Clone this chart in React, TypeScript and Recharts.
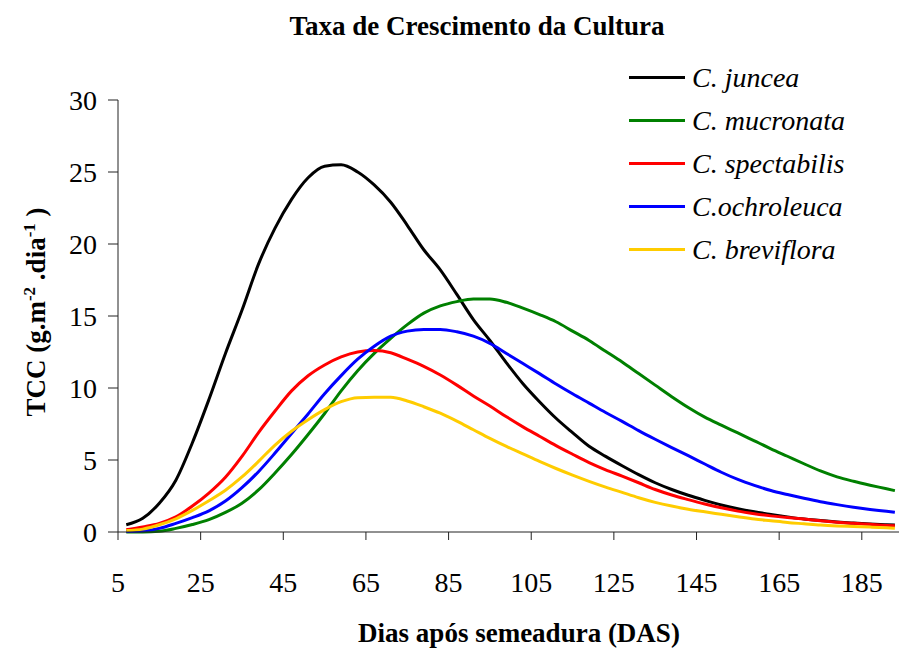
import { LineChart, Line, XAxis, YAxis } from 'recharts';

const days = [
  7, 11, 15, 19, 23, 27, 31, 35, 39, 43, 47, 51, 55, 59, 63, 67, 71, 75, 79, 83, 87, 91, 95, 99,
  103, 107, 111, 115, 119, 123, 127, 131, 135, 139, 143, 147, 151, 155, 159, 163, 167, 171, 175,
  179, 183, 187, 191, 193,
];

const juncea = [
  0.5, 0.95, 2.0, 3.6, 6.2, 9.2, 12.4, 15.4, 18.6, 21.1, 23.1, 24.6, 25.4, 25.5, 25.0, 24.1, 22.9,
  21.3, 19.6, 18.2, 16.5, 14.75, 13.3, 11.75, 10.3, 9.05, 7.9, 6.9, 5.95, 5.25, 4.6, 3.98, 3.42, 2.95,
  2.55, 2.2, 1.88, 1.62, 1.4, 1.22, 1.05, 0.9, 0.8, 0.7, 0.62, 0.55, 0.5, 0.48,
];
const mucronata = [
  0, 0, 0.05, 0.25, 0.52, 0.86, 1.36, 2.0, 2.92, 4.1, 5.38, 6.77, 8.23, 9.8, 11.2, 12.4, 13.45, 14.4,
  15.2, 15.7, 16.0, 16.18, 16.18, 15.95, 15.55, 15.1, 14.6, 13.95, 13.3, 12.55, 11.8, 11.0, 10.2,
  9.4, 8.65, 7.98, 7.42, 6.88, 6.33, 5.78, 5.26, 4.74, 4.24, 3.83, 3.52, 3.25, 3.0, 2.87,
];
const spectabilis = [
  0.15, 0.35, 0.6, 1.05, 1.8, 2.7, 3.8, 5.25, 6.9, 8.4, 9.8, 10.85, 11.6, 12.16, 12.5, 12.6, 12.45,
  12.0, 11.5, 10.9, 10.2, 9.45, 8.75, 8.0, 7.3, 6.65, 6.0, 5.4, 4.82, 4.32, 3.88, 3.42, 2.95, 2.57,
  2.25, 1.95, 1.68, 1.45, 1.27, 1.12, 1.0, 0.9, 0.78, 0.68, 0.6, 0.53, 0.46, 0.44,
];
const ochroleuca = [
  0.03, 0.08, 0.25, 0.6, 1.0, 1.47, 2.15, 3.08, 4.19, 5.48, 6.84, 8.2, 9.6, 10.86, 12.0, 12.9, 13.6,
  13.95, 14.07, 14.07, 13.9, 13.6, 13.1, 12.4, 11.7, 11.0, 10.28, 9.6, 8.95, 8.3, 7.68, 7.04, 6.44,
  5.86, 5.3, 4.72, 4.15, 3.65, 3.24, 2.88, 2.6, 2.34, 2.1, 1.9, 1.72, 1.57, 1.44, 1.37,
];
const breviflora = [
  0.1, 0.2, 0.5, 0.92, 1.5, 2.17, 2.9, 3.82, 4.9, 6.04, 7.0, 7.8, 8.5, 9.05, 9.33, 9.35, 9.35, 9.1,
  8.7, 8.25, 7.7, 7.1, 6.5, 5.94, 5.42, 4.9, 4.41, 3.95, 3.52, 3.12, 2.75, 2.38, 2.06, 1.8, 1.58,
  1.4, 1.23, 1.06, 0.9, 0.78, 0.66, 0.57, 0.48, 0.42, 0.38, 0.34, 0.29, 0.26,
];

const xTicks = [5, 25, 45, 65, 85, 105, 125, 145, 165, 185];
const yTicks = [0, 5, 10, 15, 20, 25, 30];

const series = [
  { key: 'juncea', name: 'C. juncea', color: '#000000' },
  { key: 'mucronata', name: 'C. mucronata', color: '#008000' },
  { key: 'spectabilis', name: 'C. spectabilis', color: '#FF0000' },
  { key: 'ochroleuca', name: 'C.ochroleuca', color: '#0000FF' },
  { key: 'breviflora', name: 'C. breviflora', color: '#FFCC00' },
];

const data = days.map((day, i) => ({
  day,
  juncea: juncea[i],
  mucronata: mucronata[i],
  spectabilis: spectabilis[i],
  ochroleuca: ochroleuca[i],
  breviflora: breviflora[i],
}));

const font = '"Liberation Serif", "Times New Roman", serif';

export default function App() {
  return (
    <div style={{ position: 'relative', width: 905, height: 640, fontFamily: font }}>
      <div
        style={{
          position: 'absolute',
          left: 469,
          top: 18,
          transform: 'translate(-50%, -50%)',
          whiteSpace: 'nowrap',
          fontWeight: 'bold',
          fontSize: 27,
        }}
      >
        Taxa de Crescimento da Cultura
      </div>
      <LineChart width={905} height={640} data={data} margin={{ top: 92, right: 14, bottom: 0, left: 0 }}>
        <XAxis
          dataKey="day"
          type="number"
          domain={[5, 194]}
          ticks={xTicks}
          allowDataOverflow
          height={116}
          tickSize={8}
          tickMargin={32}
          stroke="#222"
          tick={{ fill: '#000', fontSize: 28, fontFamily: font }}
        />
        <YAxis
          type="number"
          domain={[0, 30]}
          ticks={yTicks}
          width={110}
          tickSize={10}
          tickMargin={11}
          stroke="#222"
          tick={{ fill: '#000', fontSize: 28, fontFamily: font }}
        />
        {series.map((s) => (
          <Line
            key={s.key}
            dataKey={s.key}
            name={s.name}
            stroke={s.color}
            strokeWidth={3}
            dot={false}
            type="monotone"
            isAnimationActive={false}
          />
        ))}
      </LineChart>
      <div style={{ position: 'absolute', left: 621, top: 48, width: 284 }}>
        {series.map((s) => (
          <div key={s.key} style={{ display: 'flex', alignItems: 'center', height: 43 }}>
            <div style={{ width: 56, height: 3, background: s.color, marginRight: 7 }} />
            <span style={{ fontStyle: 'italic', fontSize: 28, color: '#000', whiteSpace: 'nowrap' }}>
              {s.name}
            </span>
          </div>
        ))}
      </div>
      <div
        style={{
          position: 'absolute',
          left: 511,
          top: 625,
          transform: 'translate(-50%, -50%)',
          whiteSpace: 'nowrap',
          fontWeight: 'bold',
          fontSize: 27,
        }}
      >
        Dias após semeadura (DAS)
      </div>
      <div
        style={{
          position: 'absolute',
          left: 27,
          top: 304,
          transform: 'translate(-50%, -50%) rotate(-90deg)',
          whiteSpace: 'nowrap',
          fontWeight: 'bold',
          fontSize: 27,
          lineHeight: 1,
        }}
      >
        TCC (g.m<sup style={{ fontSize: 17 }}>-2</sup> .dia<sup style={{ fontSize: 17 }}>-1</sup> )
      </div>
    </div>
  );
}
